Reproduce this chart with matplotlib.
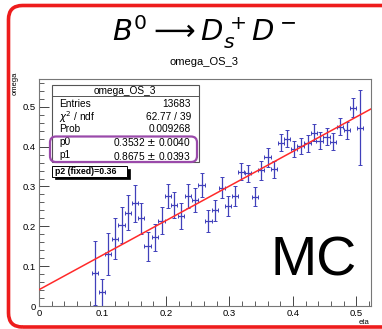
import numpy as np
import matplotlib
matplotlib.use("Agg")
from matplotlib import pyplot as plt
from matplotlib.patches import FancyBboxPatch, Rectangle

# binned omega vs eta
eta = [0.088, 0.099, 0.109, 0.120, 0.130, 0.140, 0.151, 0.161, 0.171, 0.183,
       0.193, 0.203, 0.213, 0.224, 0.235, 0.246, 0.256, 0.267, 0.277, 0.288,
       0.298, 0.309, 0.318, 0.329, 0.340, 0.350, 0.360, 0.370, 0.381, 0.391,
       0.402, 0.412, 0.423, 0.433, 0.442, 0.453, 0.463, 0.474, 0.485, 0.495,
       0.506]
omega = [0.083, 0.034, 0.130, 0.169, 0.203, 0.234, 0.258, 0.220, 0.150, 0.173,
         0.214, 0.276, 0.253, 0.226, 0.276, 0.266, 0.303, 0.214, 0.240, 0.297,
         0.251, 0.276, 0.337, 0.333, 0.274, 0.341, 0.373, 0.343, 0.410, 0.420,
         0.394, 0.402, 0.408, 0.435, 0.415, 0.425, 0.412, 0.450, 0.441, 0.498,
         0.448]
omega_err = [0.080, 0.035, 0.052, 0.052, 0.045, 0.044, 0.046, 0.039, 0.036, 0.034,
             0.034, 0.030, 0.033, 0.033, 0.029, 0.030, 0.030, 0.028, 0.026, 0.027,
             0.025, 0.025, 0.022, 0.021, 0.024, 0.024, 0.024, 0.022, 0.021, 0.021,
             0.020, 0.020, 0.021, 0.022, 0.022, 0.021, 0.021, 0.022, 0.022, 0.024,
             0.093]
eta_halfwidth = 0.005

# fit: omega = p0 + p1*(eta - p2)
p0, p1, p2 = 0.3532, 0.8675, 0.36
stat_names = ["Entries", "$\\chi^2$ / ndf", "Prob", "p0", "p1"]
stat_values = ["13683", "62.77 / 39", "0.009268",
               "0.3532 $\\pm$ 0.0040", "0.8675 $\\pm$ 0.0393"]
ticks = [0, 0.1, 0.2, 0.3, 0.4, 0.5]
tick_labels = ["0", "0.1", "0.2", "0.3", "0.4", "0.5"]

plt.rcParams['font.family'] = ['Liberation Sans', 'DejaVu Sans']
plt.rcParams['mathtext.fontset'] = 'dejavusans'

W, H = 382, 329
fig = plt.figure(figsize=(W / 100, H / 100), dpi=100)


def fx(x):
    return x / W


def fy(y):
    return 1 - y / H


ax = fig.add_axes([fx(39), fy(306), fx(371) - fx(39), fy(79.3) - fy(306)])
ax.set_xlim(0, 0.523)
ax.set_ylim(0, 0.569)

# fit line across the whole frame
xs = np.array([0, 0.523])
ax.plot(xs, p0 + p1 * (xs - p2), color="#ff2a2a", lw=1.1, zorder=3)

ax.errorbar(eta, omega, yerr=omega_err, xerr=eta_halfwidth, fmt="none",
            ecolor="#4040bb", elinewidth=0.9, capsize=1.2, capthick=0.7, zorder=2)

ax.set_xticks(ticks)
ax.set_xticklabels(tick_labels)
ax.set_yticks(ticks)
ax.set_yticklabels(tick_labels)
ax.set_xticks(np.arange(0, 0.521, 0.02), minor=True)
ax.set_yticks(np.arange(0, 0.561, 0.02), minor=True)
ax.tick_params(which="both", direction="in", top=False, right=False,
               labelsize=6.8, color="#444444", pad=2)
ax.tick_params(which="major", length=7, width=0.7)
ax.tick_params(which="minor", length=3.5, width=0.6)
for s in ax.spines.values():
    s.set_color("#777777")
    s.set_linewidth(0.8)

fig.text(fx(15), fy(72), "omega", rotation=90, ha="center", va="top", fontsize=5.5)
fig.text(fx(369), fy(323), "eta", ha="right", va="center", fontsize=5.5)

# titles
fig.text(fx(204), fy(32), "$B^0 \\longrightarrow D_s^+ D^-$", ha="center", va="center",
         fontsize=21)
fig.text(fx(204), fy(62), "omega_OS_3", ha="center", va="center", fontsize=8)

# MC label
fig.text(fx(314), fy(262), "MC", ha="center", va="center", fontsize=40)

# stats box
fig.add_artist(Rectangle((fx(51.7), fy(161.7)), fx(199) - fx(51.7), fy(85) - fy(161.7),
                         transform=fig.transFigure, facecolor="white",
                         edgecolor="#555555", lw=0.8, zorder=5))
fig.add_artist(plt.Line2D([fx(51.7), fx(199)], [fy(95.7), fy(95.7)],
                          transform=fig.transFigure, color="#555555", lw=0.7, zorder=6))
fig.text(fx(125), fy(90.5), "omega_OS_3", ha="center", va="center", fontsize=7.3, zorder=7)
row_y = [104, 116.7, 129, 142.5, 155.5]
for name, val, y in zip(stat_names, stat_values, row_y):
    fig.text(fx(59), fy(y), name, ha="left", va="center", fontsize=7.3, zorder=7)
    fig.text(fx(191), fy(y), val, ha="right", va="center", fontsize=7.3, zorder=7)

# purple highlight around fit parameters
fig.add_artist(FancyBboxPatch((0.50, (H - 162) / 100), 1.47, 0.255,
                              boxstyle="round,pad=0,rounding_size=0.06",
                              transform=fig.dpi_scale_trans, facecolor="none",
                              edgecolor="#9a4aaa", lw=1.6, zorder=8))

# p2 fixed box with shadow
fig.add_artist(Rectangle((fx(54.5), fy(179)), fx(130) - fx(54.5), fy(168.5) - fy(179),
                         transform=fig.transFigure, facecolor="black",
                         edgecolor="black", lw=0.5, zorder=5))
fig.add_artist(Rectangle((fx(52), fy(176.5)), fx(127.5) - fx(52), fy(166) - fy(176.5),
                         transform=fig.transFigure, facecolor="white",
                         edgecolor="black", lw=0.7, zorder=6))
fig.text(fx(55), fy(171.5), "p2 (fixed)=0.36", ha="left", va="center", fontsize=6.3,
         fontweight="bold", zorder=7)

# red rounded frame around the whole picture (right side runs off the picture)
fig.add_artist(FancyBboxPatch((0.085, 0.02), 3.95, 3.215,
                              boxstyle="round,pad=0,rounding_size=0.14",
                              transform=fig.dpi_scale_trans, facecolor="none",
                              edgecolor="#ee1c1c", lw=2.6, zorder=10))

plt.savefig("out.png", dpi=100)
